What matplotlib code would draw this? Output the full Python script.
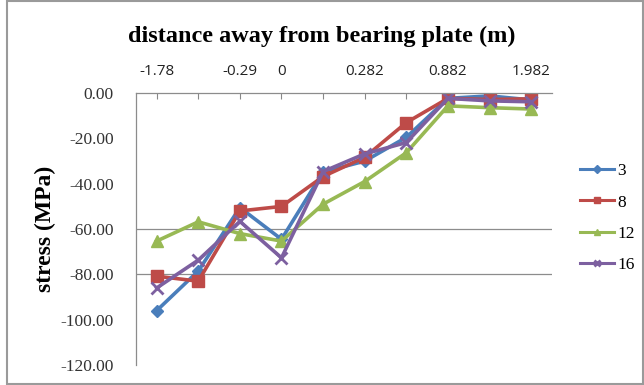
import matplotlib
matplotlib.use("Agg")
import matplotlib.pyplot as plt
from matplotlib.patches import Rectangle

# categories along the top axis (blank where the original shows no label)
positions = list(range(10))
tick_labels = ["-1.78", "", "-0.29", "0", "", "0.282", "", "0.882", "", "1.982"]

# stress (MPa) per series
s3 = [-96, -78.5, -50.5, -64.5, -34.8, -30.0, -19.5, -2.3, -1.2, -3.0]
s8 = [-80.8, -83.0, -52.0, -50.0, -36.8, -28.3, -13.0, -2.3, -2.8, -2.5]
s12 = [-65.3, -56.8, -62.0, -65.3, -49.0, -39.0, -26.3, -5.6, -6.4, -7.0]
s16 = [-86.0, -73.7, -56.6, -72.7, -34.6, -26.8, -21.8, -2.3, -3.4, -3.8]

series = [
    ("3", s3, "#4A7EBB", "D", 6.5),
    ("8", s8, "#BE4B48", "s", 8),
    ("12", s12, "#98B954", "^", 8),
    ("16", s16, "#7D60A0", "x", 8),
]

fig = plt.figure(figsize=(6.44, 3.85), dpi=100)
ax = fig.add_axes([0.211, 0.052, 0.646, 0.706])

for name, vals, col, mk, ms in series:
    ax.plot(positions, vals, color=col, lw=2.6, marker=mk, ms=ms,
            mec=col, mfc=col, mew=2 if mk == "x" else 1, label=name,
            solid_joinstyle="round")

ax.set_xlim(-0.5, 9.5)
ax.set_ylim(-120, 0)
ax.set_yticks([0, -20, -40, -60, -80, -100, -120])
ax.set_yticklabels(["0.00", "-20.00", "-40.00", "-60.00", "-80.00", "-100.00", "-120.00"],
                   fontfamily="Liberation Serif", fontsize=12.5, color="#333333")
ax.tick_params(axis="y", length=0, pad=16)

ax.xaxis.tick_top()
ax.set_xticks(positions)
ax.set_xticklabels(tick_labels, fontfamily="Open Sans", fontsize=11, color="#222222")
ax.tick_params(axis="x", direction="in", length=4, color="#888888", pad=10)

for y in (-60, -80):
    ax.axhline(y, color="#8c8c8c", lw=0.9, zorder=0)

for side in ("bottom", "right"):
    ax.spines[side].set_visible(False)
for side in ("top", "left"):
    ax.spines[side].set_color("#8c8c8c")
    ax.spines[side].set_linewidth(0.9)

ax.set_ylabel("stress (MPa)", fontfamily="Liberation Serif", fontweight="bold",
              fontsize=17, labelpad=3)
fig.text(0.5, 0.905, "distance away from bearing plate (m)", ha="center", va="center",
         fontfamily="Liberation Serif", fontweight="bold", fontsize=17.5)

leg = ax.legend(loc="center left", bbox_to_anchor=(1.0, 0.54), frameon=False,
                handlelength=2.0, labelspacing=0.88, markerscale=0.6,
                handletextpad=0.15, borderaxespad=1.2,
                prop={"family": "Liberation Serif", "size": 12.5})
for line in leg.get_lines():
    line.set_linewidth(2.2)

fig.patches.append(Rectangle((0.011, 0.003), 0.987, 0.994, transform=fig.transFigure,
                             fill=False, edgecolor="#9a9a9a", lw=1.5))

fig.savefig("out.png", dpi=100)
